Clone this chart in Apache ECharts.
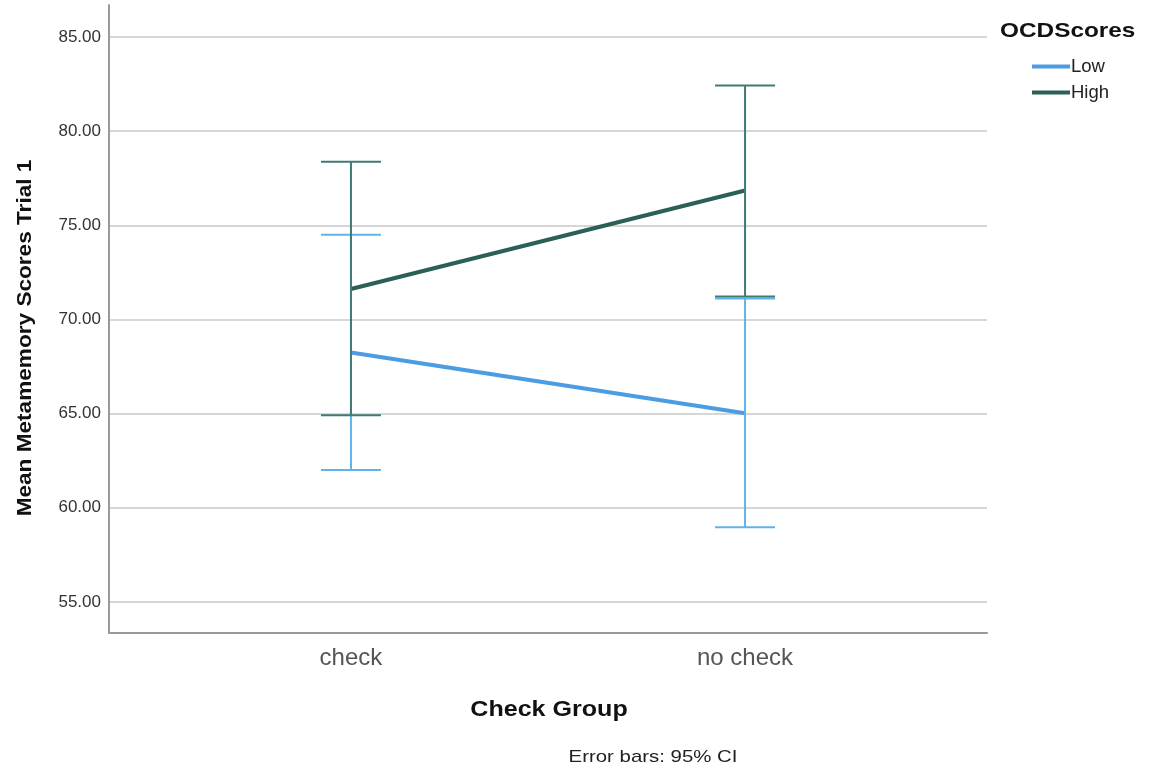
<!DOCTYPE html>
<html>
<head>
<meta charset="utf-8">
<title>Metamemory</title>
<script src="https://cdn.jsdelivr.net/npm/echarts@6/dist/echarts.min.js"></script>
<style>
    html, body { margin: 0; padding: 0; background: #fff; }
    #chart { width: 1149px; height: 773px; }
</style>
</head>
<body>
<div id="chart"></div>
<script>
    // 分组 / 刻度
    var groups = ['check', 'no check'];
    var yTicks = [55, 60, 65, 70, 75, 80, 85];

    // 均值
    var lowMean = [68.25, 65.02];
    var highMean = [71.62, 76.85];

    // 95% CI
    var lowCiLow = [62.0, 58.97];
    var lowCiHigh = [74.5, 71.12];
    var highCiLow = [64.92, 71.22];
    var highCiHigh = [78.37, 82.42];

    var lowColor = '#4b9ce2';
    var highColor = '#2b5f57';
    var lowBarColor = '#62b2ea';
    var highBarColor = '#3f7b73';

    function toPairs(arr) {
        return arr.map(function (v, i) { return [i, v]; });
    }

    function errorData(lo, hi) {
        return lo.map(function (v, i) { return [i, v, hi[i]]; });
    }

    function errorBar(color) {
        return function (params, api) {
            var x = api.value(0);
            var top = api.coord([x, api.value(2)]);
            var bot = api.coord([x, api.value(1)]);
            var half = 30;
            var style = {stroke: color, lineWidth: 2};
            return {
                type: 'group',
                children: [
                    {type: 'line', shape: {x1: top[0], y1: top[1], x2: bot[0], y2: bot[1]}, style: style},
                    {type: 'line', shape: {x1: top[0] - half, y1: top[1], x2: top[0] + half, y2: top[1]}, style: style},
                    {type: 'line', shape: {x1: bot[0] - half, y1: bot[1], x2: bot[0] + half, y2: bot[1]}, style: style}
                ]
            };
        };
    }

    var chart = echarts.init(document.getElementById('chart'));
    chart.setOption({
        animation: false,
        textStyle: {fontFamily: 'Liberation Sans'},
        grid: {left: 109, right: 162, top: 5, bottom: 140},
        legend: {
            orient: 'vertical',
            left: 1027,
            top: 52,
            itemWidth: 38,
            itemHeight: 4,
            itemGap: 7,
            icon: 'rect',
            textStyle: {fontSize: 18.5, color: '#222', padding: [0, 0, 0, -4]},
            data: ['Low', 'High']
        },
        xAxis: {
            type: 'value',
            min: -0.614,
            max: 1.614,
            axisLine: {show: true, onZero: false, lineStyle: {color: '#999', width: 2}},
            axisTick: {show: false},
            splitLine: {show: false},
            axisLabel: {
                customValues: [0, 1],
                fontSize: 24,
                color: '#555',
                margin: 13,
                formatter: function (v) { return groups[Math.round(v)]; }
            }
        },
        yAxis: {
            type: 'value',
            min: 53.35,
            max: 86.7,
            axisLine: {show: true, onZero: false, lineStyle: {color: '#999', width: 2}},
            axisTick: {show: false, customValues: yTicks},
            splitLine: {show: true, lineStyle: {color: '#d6d6d6', width: 2}},
            axisLabel: {
                customValues: yTicks,
                fontSize: 17,
                color: '#333',
                margin: 8,
                formatter: function (v) { return v.toFixed(2); }
            }
        },
        series: [
            {
                name: 'Low',
                type: 'line',
                data: toPairs(lowMean),
                symbol: 'none',
                color: lowColor,
                lineStyle: {width: 4, color: lowColor},
                z: 3
            },
            {
                name: 'High',
                type: 'line',
                data: toPairs(highMean),
                symbol: 'none',
                color: highColor,
                lineStyle: {width: 4, color: highColor},
                z: 3
            },
            {
                name: 'LowCI',
                type: 'custom',
                renderItem: errorBar(lowBarColor),
                data: errorData(lowCiLow, lowCiHigh),
                z: 4
            },
            {
                name: 'HighCI',
                type: 'custom',
                renderItem: errorBar(highBarColor),
                data: errorData(highCiLow, highCiHigh),
                z: 5
            }
        ],
        graphic: [
            {
                type: 'text',
                x: 1000,
                y: 31,
                scaleX: 1.16,
                style: {text: 'OCDScores', font: 'bold 21px Liberation Sans', fill: '#111', verticalAlign: 'middle'}
            },
            {
                type: 'text',
                x: 25,
                y: 338,
                rotation: Math.PI / 2,
                scaleX: 1.13,
                style: {
                    text: 'Mean Metamemory Scores Trial 1',
                    font: 'bold 20px Liberation Sans',
                    fill: '#111',
                    align: 'center',
                    verticalAlign: 'middle'
                }
            },
            {
                type: 'text',
                x: 549,
                y: 710,
                scaleX: 1.14,
                style: {
                    text: 'Check Group',
                    font: 'bold 22px Liberation Sans',
                    fill: '#111',
                    align: 'center',
                    verticalAlign: 'middle'
                }
            },
            {
                type: 'text',
                x: 653,
                y: 757,
                scaleX: 1.2,
                style: {
                    text: 'Error bars: 95% CI',
                    font: '17px Liberation Sans',
                    fill: '#222',
                    align: 'center',
                    verticalAlign: 'middle'
                }
            }
        ]
    });
</script>
</body>
</html>
